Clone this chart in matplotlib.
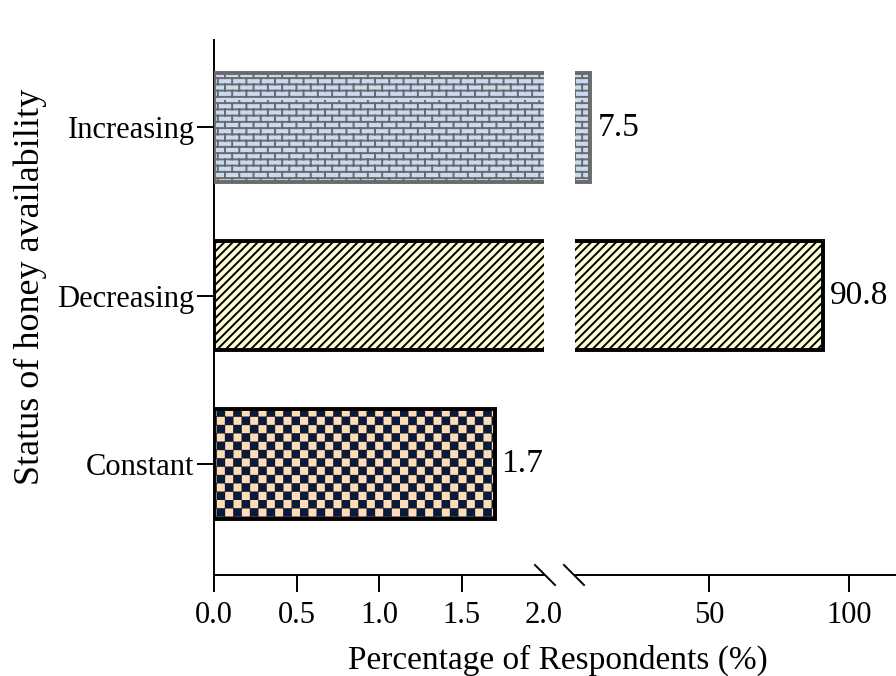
import warnings
warnings.filterwarnings("ignore")
import matplotlib
matplotlib.use("Agg")
import matplotlib.pyplot as plt
import matplotlib.hatch as mhatch
from matplotlib.path import Path

# ---------------- data ----------------
categories = ["Constant", "Decreasing", "Increasing"]
values = [1.7, 90.8, 7.5]
left_ticks = [0.0, 0.5, 1.0, 1.5, 2.0]
left_ticklabels = ["0.0", "0.5", "1.0", "1.5", "2.0"]
right_ticks = [50, 100]
right_ticklabels = ["50", "100"]
xlabel = "Percentage of Respondents (%)"
ylabel = "Status of honey availability"


# ---------------- custom hatches ----------------
class BrickHatch(mhatch.HatchPatternBase):
    def __init__(self, hatch, density):
        self.rows = 16
        self.cols = 7
        self.num_vertices = (self.rows * 2 + self.rows * self.cols * 2) if "b" in hatch else 0

    def set_vertices_and_codes(self, vertices, codes):
        k = 0
        h = 1.0 / self.rows
        for i in range(self.rows):
            y = (i + 0.5) * h
            vertices[k] = (0, y)
            vertices[k + 1] = (1, y)
            codes[k] = Path.MOVETO
            codes[k + 1] = Path.LINETO
            k += 2
            for j in range(self.cols):
                x = (j + 0.25 + 0.5 * (i % 2)) / self.cols
                vertices[k] = (x, y)
                vertices[k + 1] = (x, y + h)
                codes[k] = Path.MOVETO
                codes[k + 1] = Path.LINETO
                k += 2


class CheckerHatch(mhatch.HatchPatternBase):
    def __init__(self, hatch, density):
        self.n = 12
        self.num_vertices = (self.n * self.n // 2) * 5 if "k" in hatch else 0

    def set_vertices_and_codes(self, vertices, codes):
        s = 1.0 / self.n
        ins = 0.008
        k = 0
        for i in range(self.n):
            for j in range(self.n):
                if (i + j) % 2 == 0:
                    x0, y0 = j * s + ins, i * s + ins
                    x1, y1 = (j + 1) * s - ins, (i + 1) * s - ins
                    vertices[k:k + 5] = [(x0, y0), (x1, y0), (x1, y1), (x0, y1), (x0, y0)]
                    codes[k:k + 5] = [Path.MOVETO, Path.LINETO, Path.LINETO,
                                      Path.LINETO, Path.CLOSEPOLY]
                    k += 5


mhatch._hatch_types.append(BrickHatch)
mhatch._hatch_types.append(CheckerHatch)

plt.rcParams["font.family"] = ["Liberation Serif", "DejaVu Serif"]
plt.rcParams["hatch.linewidth"] = 1.4

styles = {
    "Constant": dict(color="#fddcb6", hatch="k", hatchcol="#0a1a38", edge="#000000"),
    "Decreasing": dict(color="#fdfbd6", hatch="////", hatchcol="#000000", edge="#000000"),
    "Increasing": dict(color="#c8dbf2", hatch="b", hatchcol="#6a6a6a", edge="#6a6a6a"),
}

W, H = 896, 676
fig = plt.figure(figsize=(W / 100, H / 100), dpi=100)

bot = 1 - 575 / H
top = 1 - 40 / H
axL = fig.add_axes([214 / W, bot, (544 - 214) / W, top - bot])
axR = fig.add_axes([575 / W, bot, (W - 575) / W, top - bot])

LEFT_MAX = 2.0
axL.set_xlim(0, LEFT_MAX)
axR.set_xlim(LEFT_MAX, 116.9)

ypos = list(range(len(categories)))
bar_h = 0.65

for ax in (axL, axR):
    for y, cat, val in zip(ypos, categories, values):
        if ax is axR and val <= LEFT_MAX:
            continue
        st = styles[cat]
        ax.barh(y, val, height=bar_h, color=st["color"], edgecolor=st["hatchcol"],
                hatch=st["hatch"], linewidth=0, zorder=2)
        ax.barh(y, val, height=bar_h, fill=False, edgecolor=st["edge"],
                linewidth=2.8, zorder=3)
    ax.set_ylim(-0.66, 2.52)

# spines
for sp in ("top", "right"):
    axL.spines[sp].set_visible(False)
for sp in ("top", "right", "left"):
    axR.spines[sp].set_visible(False)
for ax in (axL, axR):
    for sp in ax.spines.values():
        sp.set_linewidth(1.4)
    ax.tick_params(axis="both", direction="out", length=12, width=1.4,
                   labelsize=22, pad=7)

axL.set_xticks(left_ticks)
axL.set_xticklabels(left_ticklabels)
axL.xaxis.get_major_ticks()[-1].tick1line.set_visible(False)
axL.set_yticks(ypos)
axL.set_yticklabels(categories)
axL.tick_params(axis="y", pad=2, labelsize=22)

axR.set_xticks(right_ticks)
axR.set_xticklabels(right_ticklabels)
axR.set_yticks([])

# value labels
for y, val in zip(ypos, values):
    ax = axL if val <= LEFT_MAX else axR
    ax.annotate(f"{val}", xy=(val, y), xytext=(5, 0), textcoords="offset points",
                ha="left", va="center", fontsize=24, annotation_clip=False)

# axis labels
fig.text(558 / W, 1 - 660 / H, xlabel, ha="center", va="center", fontsize=24)
fig.text(30 / W, 1 - 287 / H, ylabel, ha="center", va="center", rotation=90, fontsize=26)

# break marks
d = dict(color="k", lw=1.4, clip_on=False)
for xc in (545, 574):
    fig.add_artist(plt.Line2D([(xc - 10) / W, (xc + 10) / W],
                              [1 - 565 / H, 1 - 585 / H], **d))

fig.savefig("out.png", dpi=100)
